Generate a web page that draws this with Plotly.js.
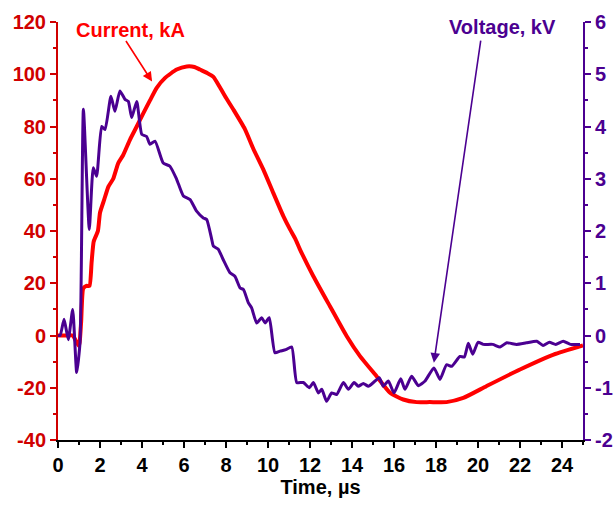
<!DOCTYPE html>
<html>
<head>
<meta charset="utf-8">
<script src="https://cdn.plot.ly/plotly-3.0.1.min.js"></script>
<style>html,body{margin:0;padding:0;background:#fff;}#chart{width:614px;height:505px;}</style>
</head>
<body>
<div id="chart"></div>
<script>
// Current, kA
const currentTime = [0,0.4,0.7,0.85,1.0,1.1,1.2,1.35,1.5,1.6,1.7,1.9,2.0,2.2,2.4,2.63,2.87,3.1,3.43,3.75,4.06,4.38,4.7,5.1,5.65,6.13,6.5,6.76,7.1,7.4,7.71,8.0,8.35,8.9,9.3,9.78,10.25,10.73,11.05,11.3,11.52,12.16,12.95,13.75,14.38,15.17,15.81,16.44,17.08,17.7,18.5,19.3,20.4,22.0,23.6,25];
const currentKA = [0,0,0,-2,-4,5,18,19,19,28,36,40,47,52,57,60,66,69,75,80,85,90,94.8,98.6,101.8,103,102.8,101.8,100.5,99,95,91,86.5,79,71.5,63.5,54.6,45.7,40.6,37,33,22.7,11.2,-0.3,-7.9,-15.6,-21.9,-24.5,-25.5,-25.5,-25.5,-23.9,-19.4,-13,-7.3,-3.8];

// Voltage, kV
const voltageTime = [0,0.1,0.29,0.49,0.7,0.89,1.05,1.21,1.49,1.68,1.84,2.08,2.24,2.52,2.71,2.95,3.19,3.35,3.51,3.75,3.99,4.22,4.38,4.62,5.01,5.33,5.65,5.97,6.29,6.6,6.92,7.08,7.32,7.4,7.63,7.87,8.19,8.43,8.67,8.83,9.06,9.22,9.46,9.7,9.86,10.06,10.33,10.57,10.85,11.13,11.37,11.68,11.97,12.16,12.4,12.56,12.79,13.03,13.27,13.59,13.83,14.1,14.3,14.54,14.78,15.02,15.3,15.49,15.73,16.0,16.32,16.52,16.84,17.16,17.48,17.9,18.19,18.5,18.75,19.14,19.35,19.54,19.75,20.0,20.25,20.7,21.05,21.37,21.84,22.3,22.8,23.1,23.4,23.7,24.06,24.4,24.86];
const voltageKV = [0,0,0.31,-0.08,0.5,-0.71,-0.13,4.33,2.03,3.21,3.05,4.0,3.94,4.58,4.29,4.68,4.52,4.48,4.17,4.48,3.85,3.81,3.66,3.72,3.3,3.24,2.99,2.67,2.6,2.38,2.25,2.22,1.84,1.71,1.65,1.45,1.2,1.13,0.91,0.88,0.63,0.53,0.24,0.34,0.24,0.34,-0.33,-0.3,-0.27,-0.22,-0.9,-0.9,-1.0,-0.9,-1.1,-1.03,-1.26,-1.1,-1.13,-0.9,-1.03,-0.9,-0.97,-0.92,-0.97,-0.9,-0.81,-0.97,-0.87,-1.1,-0.83,-1.03,-0.78,-0.96,-0.87,-0.62,-0.84,-0.56,-0.59,-0.4,-0.41,-0.15,-0.36,-0.13,-0.17,-0.17,-0.22,-0.14,-0.17,-0.14,-0.11,-0.19,-0.13,-0.17,-0.11,-0.17,-0.17];

const xTicks = [0,2,4,6,8,10,12,14,16,18,20,22,24];
const yTicks = [-40,-20,0,20,40,60,80,100,120];
const y2Ticks = [-2,-1,0,1,2,3,4,5,6];

const RED = '#FF0000', DRED = '#D00000', PURPLE = '#4B0091';
const FONT = 'Arial, "Liberation Sans", sans-serif';
const FS = 20;

const traces = [
  {x: currentTime, y: currentKA, type: 'scatter', mode: 'lines', yaxis: 'y',
   line: {color: RED, width: 4, shape: 'spline', smoothing: 0.5}, name: 'Current'},
  {x: voltageTime, y: voltageKV, type: 'scatter', mode: 'lines', yaxis: 'y2',
   line: {color: PURPLE, width: 3, shape: 'spline', smoothing: 0.5}, name: 'Voltage'}
];

const layout = {
  width: 614, height: 505,
  margin: {l: 58, r: 31, t: 22, b: 65},
  paper_bgcolor: '#fff', plot_bgcolor: '#fff',
  showlegend: false,
  font: {family: FONT, size: FS, color: '#000'},
  xaxis: {
    range: [0, 25], tickvals: xTicks, ticktext: xTicks.map(v => '<b>' + v + '</b>'),
    showgrid: false, zeroline: false, showline: true, linecolor: '#000', linewidth: 2,
    ticks: 'outside', ticklen: 6, tickwidth: 2, tickcolor: '#000',
    minor: {dtick: 1, tick0: 0, ticks: 'outside', ticklen: 3, tickwidth: 2, tickcolor: '#000', showgrid: false},
    tickfont: {family: FONT, size: FS, color: '#000'},
    title: {text: '<b>Time, µs</b>', font: {family: FONT, size: FS, color: '#000'}, standoff: 4}
  },
  yaxis: {
    range: [-40, 120], tickvals: yTicks, ticktext: yTicks.map(v => '<b>' + v + '</b>'),
    showgrid: false, zeroline: false, showline: true, linecolor: DRED, linewidth: 2,
    ticks: 'outside', ticklen: 6, tickwidth: 2, tickcolor: DRED,
    minor: {dtick: 10, tick0: 0, ticks: 'outside', ticklen: 3, tickwidth: 2, tickcolor: DRED, showgrid: false},
    tickfont: {family: FONT, size: FS, color: DRED}
  },
  yaxis2: {
    range: [-2, 6], tickvals: y2Ticks, ticktext: y2Ticks.map(v => '<b>' + v + '</b>'),
    overlaying: 'y', side: 'right',
    showgrid: false, zeroline: false, showline: true, linecolor: PURPLE, linewidth: 2,
    ticks: 'outside', ticklen: 6, tickwidth: 2, tickcolor: PURPLE,
    minor: {dtick: 0.5, tick0: 0, ticks: 'outside', ticklen: 3, tickwidth: 2, tickcolor: PURPLE, showgrid: false},
    tickfont: {family: FONT, size: FS, color: PURPLE}
  },
  annotations: [
    {xref: 'x', yref: 'y', x: 4.48, y: 97.2, axref: 'x', ayref: 'y', ax: 3.19, ay: 113.3,
     text: '', showarrow: true, arrowhead: 2, arrowsize: 1.2, arrowwidth: 1.6, arrowcolor: RED},
    {xref: 'x', yref: 'y', x: 3.43, y: 117.1, text: '<b>Current, kA</b>', showarrow: false,
     font: {family: FONT, size: FS, color: RED}},
    {xref: 'x', yref: 'y2', x: 17.9, y: -0.52, axref: 'x', ayref: 'y2', ax: 20.14, ay: 5.67,
     text: '', showarrow: true, arrowhead: 2, arrowsize: 1.2, arrowwidth: 1.6, arrowcolor: PURPLE},
    {xref: 'x', yref: 'y2', x: 21.19, y: 5.91, text: '<b>Voltage, kV</b>', showarrow: false,
     font: {family: FONT, size: FS, color: PURPLE}}
  ]
};

Plotly.newPlot('chart', traces, layout, {displayModeBar: false, staticPlot: true});
</script>
</body>
</html>
